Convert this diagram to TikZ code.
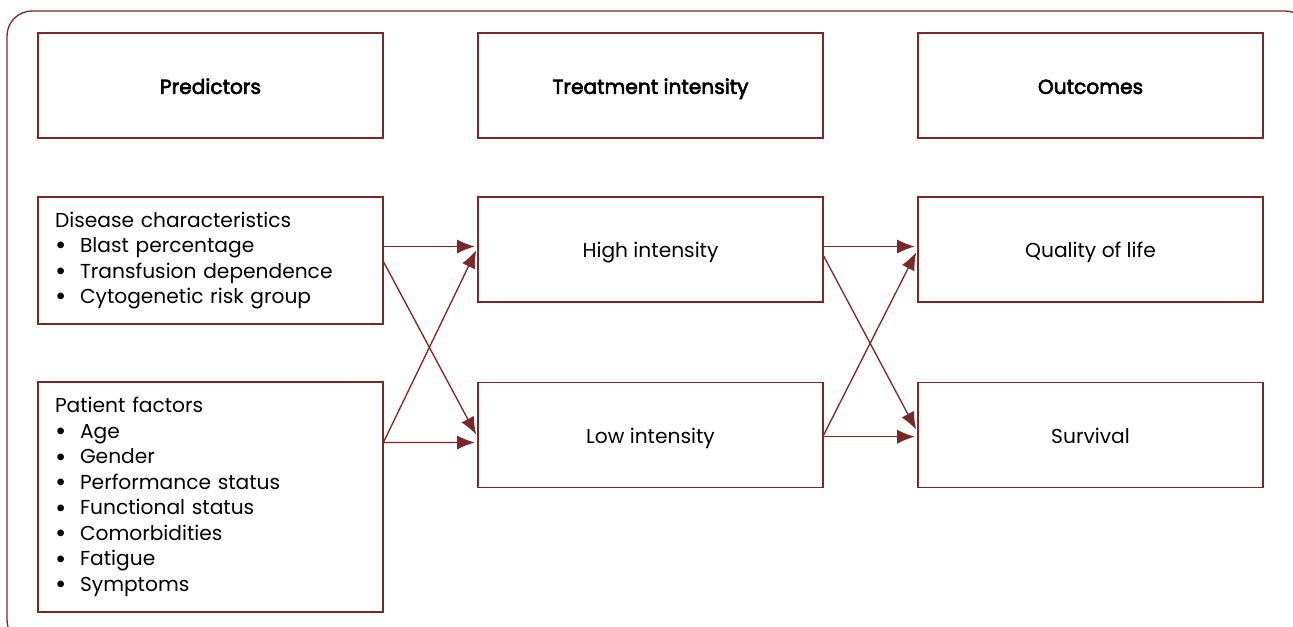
\documentclass[tikz,border=0pt]{standalone}
\usepackage{fontspec}
\setmainfont{Poppins}
\newfontfamily\headfont{Poppins}[FakeBold=3]
\usetikzlibrary{arrows.meta,calc}
\definecolor{framered}{RGB}{122,40,40}

\newcommand{\itm}[1]{\makebox[0.5cm][l]{\raisebox{-0.2ex}{\scalebox{1.35}{\textbullet}}}#1}

\begin{document}
\begin{tikzpicture}[x=0.02cm,y=-0.02cm,->,>={Latex[length=10pt,width=8pt]},
    shorten >=1.5pt,line width=0.75pt,draw=framered,
    font=\fontsize{11.5}{14.5}\selectfont,
    base box/.style={rectangle,draw=framered,minimum width=6.9cm,
      minimum height=2.1cm,inner sep=0pt},
    main node/.style={base box,text height=12pt,text depth=2.5pt},
    head node/.style={main node,font=\fontsize{11.5}{14.5}\selectfont\headfont},
    list node/.style={base box,text width=6.22cm,align=left,inner xsep=0.34cm},
    every edge/.style={draw=framered,line width=0.75pt}]

    \useasboundingbox (0,0) rectangle (1293,626);
    \draw[-,framered,line width=0.75pt,rounded corners=0.5cm] (7,11) rectangle (1310,645);

    % Column heads
    \node[head node] (pred) at (210.5,85.5) {Predictors};
    \node[head node] (treat) at (650.5,85.5) {Treatment intensity};
    \node[head node] (outc) at (1090.5,85.5) {Outcomes};

    % Predictors
    \node[list node,minimum height=2.54cm] (dis) at (210.5,260.5) {Disease characteristics\\
      \itm{Blast percentage}\\
      \itm{Transfusion dependence}\\
      \itm{Cytogenetic risk group}};
    \node[list node,minimum height=4.6cm] (pat) at (210.5,497) {Patient factors\\
      \itm{Age}\\
      \itm{Gender}\\
      \itm{Performance status}\\
      \itm{Functional status}\\
      \itm{Comorbidities}\\
      \itm{Fatigue}\\
      \itm{Symptoms}};

    % Treatment intensity
    \node[main node] (high) at (650.5,249.5) {High intensity};
    \node[main node] (low) at (650.5,435) {Low intensity};

    % Outcomes
    \node[main node] (qol) at (1090.5,249.5) {Quality of life};
    \node[main node] (surv) at (1090.5,435) {Survival};

    \path
    % Predictors to treatment
    ($(dis.east)+(0,-14)$) edge ($(high.west)+(0,-3)$)
    ($(dis.east)+(0,1.5)$) edge ($(low.west)+(0,2)$)
    ($(pat.east)+(0,-55)$) edge ($(high.west)+(0,-1.5)$)
    ($(pat.east)+(0,-54.5)$) edge ($(low.west)+(0,7.5)$)
    % Treatment to outcomes
    ($(high.east)+(0,-3)$) edge ($(qol.west)+(0,-3)$)
    ($(high.east)+(0,6.5)$) edge ($(surv.west)+(0,-3)$)
    ($(low.east)+(0,0)$) edge ($(qol.west)+(0,0.5)$)
    ($(low.east)+(0,1.7)$) edge ($(surv.west)+(0,1.7)$);
  \end{tikzpicture}
\end{document}
